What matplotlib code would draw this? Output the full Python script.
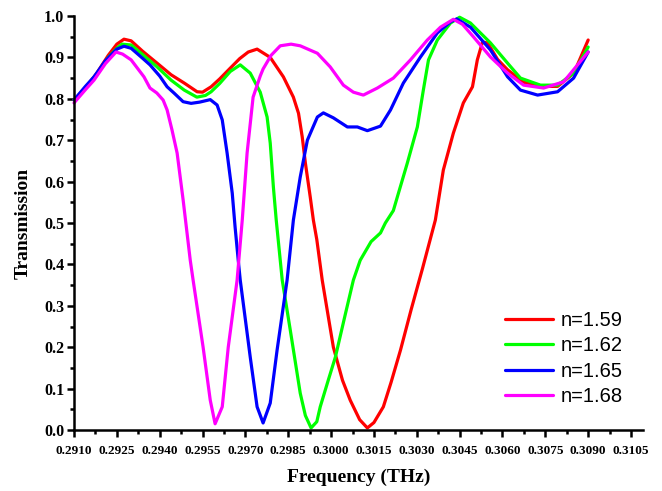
import matplotlib
matplotlib.use("Agg")
import matplotlib.pyplot as plt
from matplotlib.ticker import MultipleLocator, FormatStrFormatter

# ---- data (frequency in THz, transmission) ----
f_159 = [0.2910, 0.2914, 0.2918, 0.2922, 0.2925, 0.29275, 0.2930, 0.2934, 0.29391, 0.2944,
         0.29486, 0.29531, 0.2955, 0.2958, 0.2961, 0.29647, 0.2968, 0.2971, 0.29741, 0.29787,
         0.29833, 0.29868, 0.29886, 0.29899, 0.2991, 0.29927, 0.29938, 0.2995, 0.29969, 0.30008,
         0.3004, 0.30067, 0.3010, 0.30127, 0.3015, 0.30183, 0.3021, 0.30243, 0.3028, 0.3032,
         0.30365, 0.30393, 0.30428, 0.30463, 0.30495, 0.30512, 0.3053, 0.30548, 0.30583, 0.30618,
         0.30674, 0.30744, 0.30793, 0.3085, 0.3090]
t_159 = [0.797, 0.826, 0.862, 0.905, 0.932, 0.944, 0.940, 0.915, 0.886, 0.858,
         0.838, 0.817, 0.816, 0.829, 0.848, 0.874, 0.897, 0.913, 0.920, 0.900,
         0.853, 0.804, 0.765, 0.708, 0.645, 0.563, 0.507, 0.460, 0.362, 0.200,
         0.120, 0.072, 0.025, 0.005, 0.018, 0.056, 0.115, 0.193, 0.290, 0.390,
         0.507, 0.628, 0.717, 0.790, 0.829, 0.894, 0.937, 0.935, 0.895, 0.870,
         0.840, 0.830, 0.830, 0.862, 0.942]

f_162 = [0.2910, 0.2914, 0.2918, 0.2922, 0.2925, 0.29268, 0.2930, 0.2934, 0.29391, 0.2944,
         0.29486, 0.2953, 0.2956, 0.2958, 0.2961, 0.29647, 0.29682, 0.29717, 0.29752, 0.29776,
         0.29787, 0.29798, 0.29808, 0.29829, 0.29857, 0.29892, 0.2991, 0.2993, 0.2995, 0.29962,
         0.2999, 0.30015, 0.3005, 0.30078, 0.30102, 0.3014, 0.30173, 0.3019, 0.30218, 0.30232,
         0.30267, 0.30302, 0.30323, 0.30341, 0.30372, 0.30418, 0.3045, 0.30488, 0.30523, 0.30558,
         0.30618, 0.30663, 0.30733, 0.30793, 0.30849, 0.3090]
t_162 = [0.797, 0.826, 0.860, 0.900, 0.922, 0.932, 0.930, 0.907, 0.877, 0.845,
         0.821, 0.804, 0.808, 0.817, 0.837, 0.866, 0.882, 0.862, 0.816, 0.756,
         0.693, 0.587, 0.507, 0.362, 0.242, 0.089, 0.035, 0.005, 0.020, 0.056,
         0.120, 0.176, 0.280, 0.362, 0.410, 0.455, 0.476, 0.500, 0.530, 0.563,
         0.645, 0.732, 0.821, 0.894, 0.942, 0.983, 0.997, 0.983, 0.959, 0.935,
         0.886, 0.850, 0.833, 0.833, 0.862, 0.925]

f_165 = [0.2910, 0.2914, 0.29170, 0.2921, 0.2925, 0.29275, 0.2930, 0.2934, 0.29366, 0.2940,
         0.29426, 0.2945, 0.29482, 0.2951, 0.2954, 0.29577, 0.29601, 0.29619, 0.29636, 0.29654,
         0.29664, 0.29675, 0.29682, 0.29717, 0.29741, 0.29762, 0.29787, 0.29811, 0.29846, 0.29868,
         0.29892, 0.29917, 0.29952, 0.29973, 0.30008, 0.30057, 0.30092, 0.30127, 0.30173, 0.30208,
         0.30253, 0.30313, 0.30372, 0.30418, 0.3044, 0.30488, 0.30558, 0.30618, 0.30663, 0.30723,
         0.30793, 0.30849, 0.3090]
t_165 = [0.797, 0.830, 0.853, 0.892, 0.920, 0.927, 0.922, 0.898, 0.882, 0.855,
         0.829, 0.814, 0.793, 0.789, 0.792, 0.798, 0.785, 0.749, 0.669, 0.572,
         0.490, 0.410, 0.362, 0.176, 0.056, 0.017, 0.065, 0.193, 0.362, 0.507,
         0.611, 0.700, 0.756, 0.766, 0.754, 0.732, 0.732, 0.723, 0.734, 0.773,
         0.838, 0.901, 0.959, 0.986, 0.993, 0.973, 0.918, 0.853, 0.821, 0.809,
         0.817, 0.850, 0.913]

f_168 = [0.2910, 0.2914, 0.29170, 0.2921, 0.29247, 0.2927, 0.29300, 0.29345, 0.29366, 0.2939,
         0.29412, 0.29426, 0.29443, 0.29461, 0.29482, 0.29507, 0.29517, 0.29552, 0.29577, 0.29594,
         0.29619, 0.2964, 0.29671, 0.29689, 0.29706, 0.29727, 0.29752, 0.29762, 0.2979, 0.29822,
         0.2986, 0.29892, 0.29952, 0.29997, 0.30043, 0.30078, 0.30113, 0.30162, 0.30218, 0.30278,
         0.30337, 0.30383, 0.30428, 0.3046, 0.30498, 0.30558, 0.30618, 0.30674, 0.30744, 0.30814,
         0.3090]
t_168 = [0.790, 0.822, 0.845, 0.885, 0.913, 0.908, 0.894, 0.853, 0.826, 0.814,
         0.797, 0.773, 0.725, 0.669, 0.556, 0.410, 0.362, 0.200, 0.072, 0.015,
         0.056, 0.200, 0.362, 0.507, 0.669, 0.804, 0.855, 0.872, 0.905, 0.928,
         0.932, 0.928, 0.910, 0.877, 0.833, 0.816, 0.809, 0.826, 0.850, 0.894,
         0.942, 0.973, 0.992, 0.980, 0.950, 0.901, 0.862, 0.833, 0.826, 0.841,
         0.913]

labels = ["n=1.59", "n=1.62", "n=1.65", "n=1.68"]
colors = ["#ff0000", "#00ff00", "#0000ff", "#ff00ff"]

x_ticks = [0.2910, 0.2925, 0.2940, 0.2955, 0.2970, 0.2985, 0.3000, 0.3015,
           0.3030, 0.3045, 0.3060, 0.3075, 0.3090, 0.3105]

fig = plt.figure(figsize=(6.62, 4.91), dpi=100)
ax = fig.add_axes([74/662, 61/491, (643-74)/662, (430-16)/491])

series = [(f_159, t_159), (f_162, t_162), (f_165, t_165), (f_168, t_168)]
for (fx, ty), lab, c in zip(series, labels, colors):
    ax.plot(fx, ty, color=c, lw=2.3, label=lab, clip_on=False,
            solid_capstyle='round', solid_joinstyle='round')

ax.set_xlim(0.2910, 0.31092)
ax.set_ylim(0.0, 1.0)
ax.set_xticks(x_ticks)
ax.xaxis.set_minor_locator(MultipleLocator(0.00075))
ax.yaxis.set_major_locator(MultipleLocator(0.1))
ax.yaxis.set_minor_locator(MultipleLocator(0.05))
ax.xaxis.set_major_formatter(FormatStrFormatter('%.4f'))
ax.yaxis.set_major_formatter(FormatStrFormatter('%.1f'))

for s in ['top', 'right']:
    ax.spines[s].set_visible(False)
for s in ['left', 'bottom']:
    ax.spines[s].set_linewidth(1.8)

ax.tick_params(which='major', direction='out', length=5, width=1.8)
ax.tick_params(which='minor', direction='out', length=3, width=1.8)
serif = 'Liberation Serif'
for lbl in ax.get_xticklabels():
    lbl.set_fontfamily(serif); lbl.set_fontweight('bold'); lbl.set_fontsize(9.5)
for lbl in ax.get_yticklabels():
    lbl.set_fontfamily(serif); lbl.set_fontweight('bold'); lbl.set_fontsize(11.5)
ax.tick_params(axis='x', pad=6)
ax.tick_params(axis='y', pad=2)

ax.set_xlabel("Frequency (THz)", fontfamily=serif, fontweight='bold', fontsize=14, labelpad=8)
ax.set_ylabel("Transmission", fontfamily=serif, fontweight='bold', fontsize=14, labelpad=9)

ax.legend(loc='upper left', bbox_to_anchor=(505/662, 1 - 311/491), bbox_transform=fig.transFigure,
          frameon=False, prop={'family': 'Liberation Sans', 'size': 14.5},
          handlelength=2.4, handletextpad=0.35, labelspacing=0.32, borderpad=0, borderaxespad=0)

fig.savefig("out.png", dpi=100)
